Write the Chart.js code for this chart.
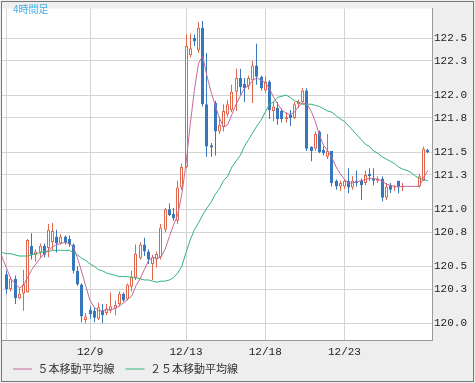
<!DOCTYPE html>
<html><head><meta charset="utf-8">
<script src="https://cdn.jsdelivr.net/npm/chart.js@4.4.1/dist/chart.umd.min.js"></script>
<style>html,body{margin:0;padding:0;background:#fff;}canvas{display:block;}</style>
</head><body>
<canvas id="c" width="475" height="383"></canvas>
<script>
const chartTitle = '4時間足';
const seriesNames = ['５本移動平均線', '２５本移動平均線'];

const openValues = [
120.43,120.30,120.39,120.22,120.26,120.27,120.68,120.60,120.62,120.68,
120.66,120.71,120.76,120.70,120.76,120.74,120.69,120.46,120.34,120.03,
120.12,120.11,120.04,120.11,120.09,120.11,120.13,120.17,120.26,120.21,
120.32,120.40,120.57,120.69,120.63,120.52,120.56,120.58,120.82,121.00,
120.96,120.90,121.19,121.37,122.35,122.50,122.39,122.59,121.92,121.56,
121.93,121.68,121.72,121.83,121.87,122.03,122.15,122.10,122.08,122.13,
122.26,122.16,122.04,122.12,121.86,121.89,121.86,121.79,121.83,121.80,
121.92,121.94,122.04,121.55,121.53,121.68,121.52,121.46,121.51,121.25,
121.20,121.20,121.25,121.19,121.25,121.25,121.23,121.31,121.27,121.25,
121.27,121.10,121.21,121.19,121.25,121.19,121.20,121.20,121.20,121.20,
121.25,121.52];
const highValues = [
120.46,120.41,120.42,120.31,120.47,120.74,120.79,120.65,120.70,120.70,
120.87,120.88,120.82,120.78,120.77,120.77,120.70,120.50,120.35,120.09,
120.15,120.14,120.18,120.17,120.17,120.27,120.20,120.28,120.27,120.35,
120.46,120.69,120.71,120.75,120.65,120.60,120.63,120.87,121.01,121.05,
121.01,121.25,121.40,122.53,122.54,122.53,122.64,122.65,122.37,121.58,
121.95,121.80,121.92,121.96,122.09,122.23,122.23,122.15,122.17,122.30,
122.45,122.17,122.16,122.13,121.94,121.94,121.88,121.85,121.87,121.94,
121.96,122.06,122.06,121.55,121.68,121.69,121.55,121.66,121.51,121.26,
121.25,121.26,121.36,121.29,121.34,121.27,121.34,121.36,121.36,121.29,
121.29,121.23,121.23,121.21,121.25,121.23,121.20,121.20,121.20,121.31,
121.55,121.53];
const lowValues = [
120.26,120.28,120.17,120.21,120.11,120.27,120.56,120.54,120.57,120.58,
120.58,120.64,120.62,120.69,120.69,120.67,120.44,120.33,120.01,120.00,
120.04,120.01,120.03,120.00,120.07,120.09,120.07,120.15,120.19,120.20,
120.28,120.38,120.56,120.59,120.52,120.38,120.49,120.56,120.80,120.94,
120.90,120.87,121.17,121.36,122.33,122.43,122.37,121.90,121.46,121.46,
121.47,121.66,121.68,121.81,121.85,121.86,122.00,121.94,122.05,121.93,
122.09,122.04,122.02,121.79,121.77,121.74,121.76,121.76,121.73,121.79,
121.89,121.93,121.51,121.42,121.51,121.49,121.47,121.44,121.20,121.17,
121.16,121.18,121.14,121.17,121.20,121.08,121.21,121.25,121.21,121.23,
121.07,121.08,121.14,121.16,121.14,121.16,121.20,121.20,121.20,121.19,
121.25,121.49];
const closeValues = [
120.30,120.39,120.22,120.26,120.34,120.73,120.60,120.63,120.68,120.60,
120.82,120.81,120.70,120.76,120.71,120.69,120.46,120.34,120.06,120.06,
120.08,120.05,120.14,120.07,120.13,120.15,120.16,120.26,120.20,120.34,
120.41,120.61,120.69,120.63,120.56,120.58,120.61,120.84,121.00,120.95,
120.92,121.19,121.37,122.43,122.41,122.47,122.59,121.92,121.55,121.54,
121.68,121.74,121.86,121.92,122.03,122.15,122.07,122.06,122.15,122.26,
122.16,122.06,122.12,121.87,121.90,121.79,121.79,121.81,121.80,121.92,
121.94,122.04,121.53,121.51,121.66,121.50,121.49,121.51,121.23,121.20,
121.23,121.25,121.19,121.25,121.23,121.21,121.30,121.29,121.25,121.27,
121.10,121.20,121.17,121.20,121.19,121.20,121.20,121.20,121.20,121.29,
121.53,121.50];

// moving averages, first value belongs to bar maFirstBar
const maFirstBar = -2;
const ma5Values = [
120.68,120.57,
120.48,120.39,120.35,120.31,120.33,120.40,120.47,120.52,120.57,120.61,
120.64,120.67,120.69,120.70,120.71,120.70,120.67,120.57,120.45,120.32,
120.20,120.14,120.11,120.11,120.12,120.12,120.13,120.15,120.18,120.21,
120.24,120.33,120.39,120.47,120.55,120.58,120.57,120.58,120.65,120.76,
120.86,120.95,121.13,121.40,121.74,122.04,122.28,122.34,122.17,122.03,
121.91,121.80,121.72,121.74,121.83,121.92,121.99,122.06,122.08,122.13,
122.15,122.13,122.11,122.06,121.98,121.92,121.87,121.84,121.83,121.85,
121.90,121.93,121.92,121.86,121.77,121.65,121.56,121.51,121.45,121.37,
121.31,121.26,121.23,121.23,121.24,121.25,121.26,121.27,121.27,121.26,
121.25,121.22,121.21,121.20,121.20,121.20,121.20,121.20,121.20,121.20,
121.28,121.34];
const ma25Values = [
120.63,120.62,
120.61,120.61,120.60,120.59,120.59,120.59,120.60,120.61,120.62,120.63,
120.63,120.64,120.64,120.64,120.64,120.64,120.62,120.60,120.57,120.55,
120.52,120.50,120.47,120.46,120.44,120.43,120.42,120.41,120.41,120.41,
120.40,120.40,120.39,120.38,120.38,120.37,120.36,120.37,120.37,120.38,
120.40,120.44,120.50,120.62,120.73,120.82,120.88,120.95,121.01,121.06,
121.13,121.18,121.25,121.29,121.37,121.42,121.47,121.55,121.61,121.67,
121.73,121.78,121.85,121.92,121.94,121.98,121.99,122.00,121.98,121.95,
121.94,121.92,121.92,121.92,121.91,121.90,121.88,121.86,121.85,121.82,
121.79,121.77,121.73,121.69,121.65,121.61,121.57,121.55,121.51,121.49,
121.46,121.44,121.42,121.40,121.37,121.35,121.34,121.32,121.29,121.27,
121.26,121.25];

const xTickBars = [0, 20, 43, 62, 81];
const xTickLabels = ['', '12/9', '12/13', '12/18', '12/23'];
const yTickValues = [120.0, 120.3, 120.5, 120.8, 121.0, 121.3, 121.5, 121.8, 122.0, 122.3, 122.5];

const UP = '#e0664c', DOWN = '#3677bd';
const isUp = i => closeValues[i] >= openValues[i];

const wickData = openValues.map((o, i) => ({x: i, y: [lowValues[i], highValues[i]]}));
const bodyData = openValues.map((o, i) => ({x: i, y: [o, closeValues[i]]}));
const ma5Data = ma5Values.map((v, k) => ({x: k + maFirstBar, y: v}));
const ma25Data = ma25Values.map((v, k) => ({x: k + maFirstBar, y: v}));

const frame = {
  id: 'frame',
  afterLayout(chart) {
    // pull the legend row up into the lower panel
    const lg = chart.legend;
    if (lg) { lg.top -= 8.5; lg.bottom -= 8.5; }
  },
  afterDatasetsUpdate(chart) {
    // snap candle parts to whole pixels so they stay crisp
    chart.data.datasets.forEach((ds, di) => {
      if (ds.type !== 'bar') return;
      chart.getDatasetMeta(di).data.forEach(el => { el.x = Math.floor(el.x) + 0.5; });
    });
  },
  beforeDraw(chart) {
    const {ctx, chartArea: a} = chart;
    ctx.save();
    ctx.fillStyle = '#efeeee';
    ctx.fillRect(0, 0, chart.width, chart.height);
    ctx.fillStyle = '#ffffff';
    ctx.fillRect(a.left, a.top, a.right - a.left, a.bottom - a.top);
    ctx.restore();
  },
  afterDraw(chart) {
    const {ctx} = chart;
    ctx.save();
    ctx.strokeStyle = '#777';
    ctx.lineWidth = 1;
    ctx.strokeRect(1.5, 1.5, chart.width - 3, chart.height - 3);
    ctx.fillStyle = '#3fb0e8';
    ctx.font = '10px "Noto Sans CJK JP"';
    ctx.textBaseline = 'alphabetic';
    ctx.fillText(chartTitle, 13, 13);
    ctx.restore();
  }
};

const monoFont = {family: '"Liberation Mono", monospace', size: 11};

new Chart(document.getElementById('c'), {
  type: 'line',
  data: {
    datasets: [
      {type: 'line', label: seriesNames[0], data: ma5Data, borderColor: '#c46a9a', backgroundColor: '#c46a9a',
       borderWidth: 1, pointRadius: 0, tension: 0, order: 0},
      {type: 'line', label: seriesNames[1], data: ma25Data, borderColor: '#33b27a', backgroundColor: '#33b27a',
       borderWidth: 1, pointRadius: 0, tension: 0, order: 0},
      {type: 'bar', label: 'body', data: bodyData, grouped: false, maxBarThickness: 3, borderWidth: 1,
       borderSkipped: false, inflateAmount: 0,
       backgroundColor: c => isUp(c.dataIndex) ? '#ffffff' : DOWN,
       borderColor: c => isUp(c.dataIndex) ? UP : DOWN, order: 1},
      {type: 'bar', label: 'wick', data: wickData, grouped: false, maxBarThickness: 1, borderWidth: 0,
       inflateAmount: 0, backgroundColor: c => isUp(c.dataIndex) ? UP : DOWN, order: 2}
    ]
  },
  options: {
    responsive: false,
    animation: false,
    devicePixelRatio: 1,
    layout: {padding: {left: 2, top: 2, right: 0, bottom: 0}},
    scales: {
      x: {
        type: 'linear', min: -1.127, max: 101.99, offset: false,
        afterBuildTicks: s => { s.ticks = xTickBars.map(v => ({value: v})); },
        afterFit: s => { s.height = 21; },
        ticks: {autoSkip: false, maxRotation: 0, padding: 5, color: '#222', font: monoFont,
                callback: (v, i) => xTickLabels[i]},
        grid: {color: '#d4d4d4', lineWidth: 1, drawTicks: false, offset: false},
        border: {display: true, color: '#999'}
      },
      y: {
        type: 'linear', position: 'right', min: 119.854, max: 122.758,
        afterBuildTicks: s => { s.ticks = yTickValues.map(v => ({value: v})); },
        afterFit: s => { s.width = 43; },
        ticks: {autoSkip: false, padding: 2, color: '#222', font: monoFont,
                callback: v => Number(v).toFixed(1)},
        grid: {color: '#d4d4d4', lineWidth: 1, drawTicks: false},
        border: {display: true, color: '#999'}
      }
    },
    plugins: {
      tooltip: {enabled: false},
      legend: {
        position: 'bottom', align: 'start', maxHeight: 22,
        labels: {usePointStyle: true, pointStyle: 'line', pointStyleWidth: 19, padding: 11,
                 color: '#333', font: {family: '"Noto Sans CJK JP"', size: 11},
                 filter: item => item.datasetIndex < 2}
      }
    }
  },
  plugins: [frame]
});
</script>
</body></html>
